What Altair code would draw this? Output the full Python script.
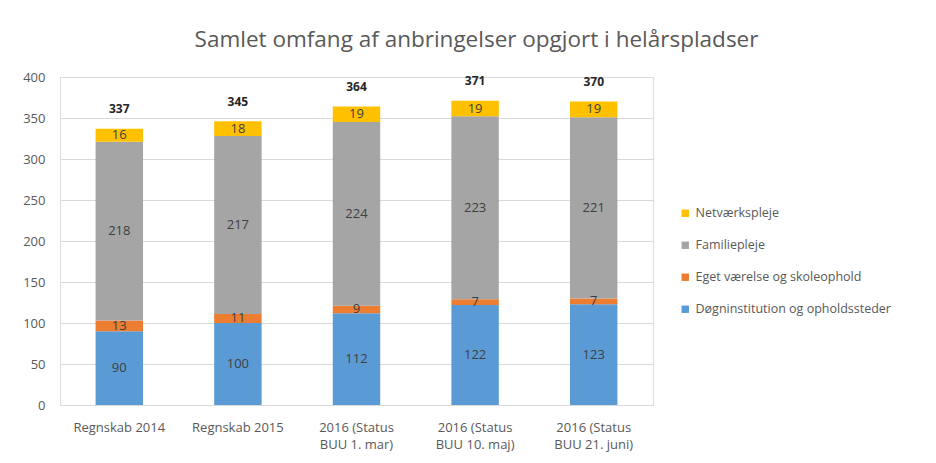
import altair as alt
import pandas as pd

categories = [
    "Regnskab 2014",
    "Regnskab 2015",
    "2016 (Status\nBUU 1. mar)",
    "2016 (Status\nBUU 10. maj)",
    "2016 (Status\nBUU 21. juni)",
]
series = [
    "Døgninstitution og opholdssteder",
    "Eget værelse og skoleophold",
    "Familiepleje",
    "Netværkspleje",
]
doegn = [90, 100, 112, 122, 123]
eget = [13, 11, 9, 7, 7]
familie = [218, 217, 224, 223, 221]
netvaerk = [16, 18, 19, 19, 19]
totals = [337, 345, 364, 371, 370]
colors = ["#5B9BD5", "#ED7D31", "#A5A5A5", "#FFC000"]

rows = []
for i, c in enumerate(categories):
    for j, (s, vals) in enumerate(zip(series, [doegn, eget, familie, netvaerk])):
        rows.append({"cat": c, "serie": s, "idx": j, "value": vals[i]})
df = pd.DataFrame(rows)
tot_df = pd.DataFrame({"cat": categories, "total": totals})

font = "Open Sans"

x_enc = alt.X(
    "cat:N",
    sort=categories,
    title=None,
    scale=alt.Scale(paddingInner=0.6, paddingOuter=0.3),
    axis=alt.Axis(
        labelAngle=0,
        labelExpr="split(datum.label, '\\n')",
        labelFont=font,
        labelFontSize=13,
        labelColor="#595959",
        labelPadding=16,
        labelLineHeight=17,
        labelLimit=200,
        ticks=False,
        domainColor="#D9D9D9",
        grid=False,
    ),
)

y_scale = alt.Scale(domain=[0, 400])

bars = (
    alt.Chart(df)
    .mark_bar()
    .encode(
        x=x_enc,
        y=alt.Y(
            "value:Q",
            stack="zero",
            scale=y_scale,
            title=None,
            axis=alt.Axis(
                values=list(range(0, 401, 50)),
                labelFont=font,
                labelFontSize=13,
                labelColor="#595959",
                labelPadding=15,
                ticks=False,
                domain=False,
                gridColor="#D9D9D9",
            ),
        ),
        color=alt.Color(
            "serie:N",
            scale=alt.Scale(domain=series[::-1], range=colors[::-1]),
            legend=alt.Legend(
                title=None,
                orient="none",
                legendX=619,
                legendY=130,
                symbolType="square",
                symbolSize=55,
                symbolStrokeWidth=0,
                labelFont=font,
                labelFontSize=12.5,
                labelColor="#595959",
                labelLimit=300,
                rowPadding=19,
                labelOffset=4,
            ),
        ),
        order=alt.Order("idx:Q", sort="ascending"),
    )
)

seg_labels = (
    alt.Chart(df)
    .transform_stack(
        stack="value",
        groupby=["cat"],
        sort=[alt.SortField("idx", order="ascending")],
        as_=["y0", "y1"],
    )
    .transform_calculate(mid="(datum.y0 + datum.y1) / 2")
    .mark_text(font=font, fontSize=13, color="#404040")
    .encode(
        x=alt.X("cat:N", sort=categories),
        y=alt.Y("mid:Q", scale=y_scale),
        text="value:Q",
    )
)

tot_labels = (
    alt.Chart(tot_df)
    .mark_text(font=font, fontSize=12, color="#262626", fontWeight="bold", dy=-20)
    .encode(
        x=alt.X("cat:N", sort=categories),
        y=alt.Y("total:Q", scale=y_scale),
        text="total:Q",
    )
)

chart = (
    alt.layer(bars, seg_labels, tot_labels)
    .properties(
        width=593,
        height=328,
        title=alt.TitleParams(
            "Samlet omfang af anbringelser opgjort i helårspladser",
            font=font,
            fontSize=22.5,
            fontWeight="normal",
            color="#595959",
            anchor="middle",
            dx=120,
            offset=20,
        ),
        autosize=alt.AutoSizeParams(type="none"),
        padding={"left": 52, "top": 69, "right": 270, "bottom": 56},
    )
    .configure_view(stroke=None)
    .configure(background="white")
)

chart.save("out.html", embed_options={"renderer": "svg", "actions": False})
